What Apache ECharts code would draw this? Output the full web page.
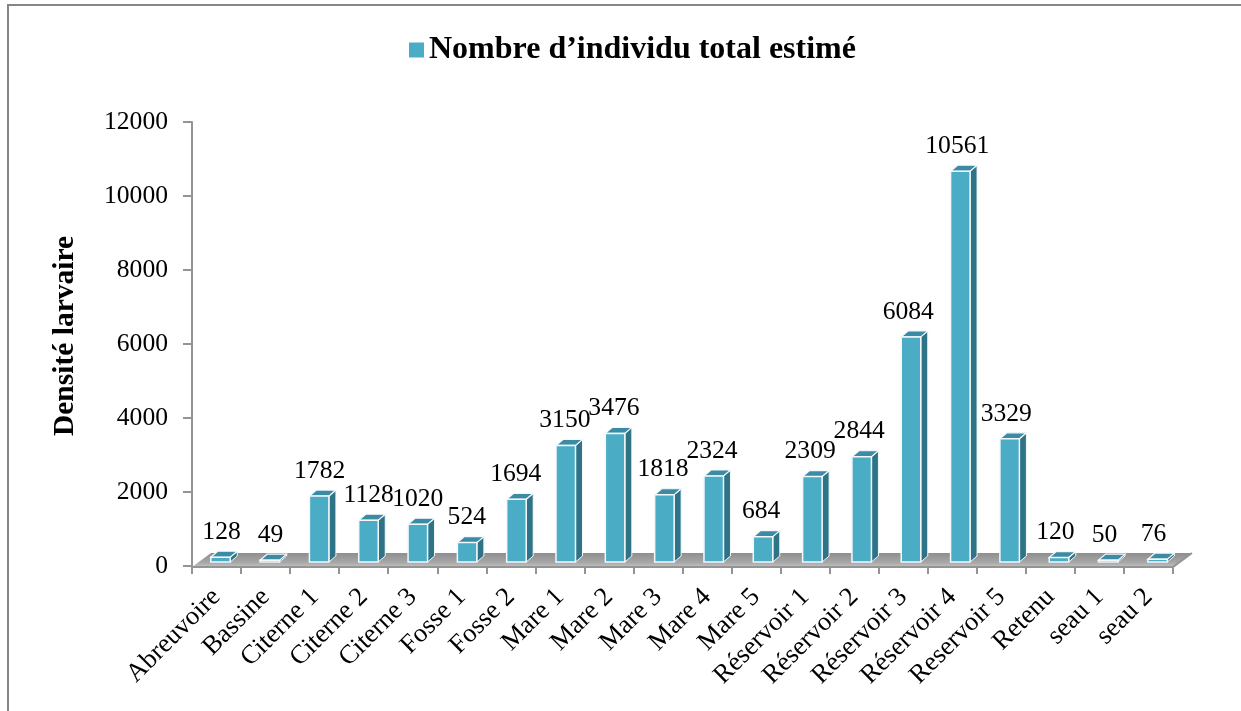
<!DOCTYPE html>
<html><head><meta charset="utf-8">
<style>html,body{margin:0;padding:0;background:#fff}#c{width:1241px;height:711px}</style>
<script src="https://cdn.jsdelivr.net/npm/echarts@6/dist/echarts.min.js"></script>
</head><body><div id="c"></div>
<script>
const categories = ['Abreuvoire','Bassine','Citerne 1','Citerne 2','Citerne 3','Fosse 1','Fosse 2','Mare 1','Mare 2','Mare 3','Mare 4','Mare 5','Réservoir 1','Réservoir 2','Réservoir 3','Réservoir 4','Reservoir 5','Retenu','seau 1','seau 2'];
const values = [128,49,1782,1128,1020,524,1694,3150,3476,1818,2324,684,2309,2844,6084,10561,3329,120,50,76];
const seriesName = 'Nombre d’individu total estimé';
const yTicks = {min:0,max:12000,interval:2000};
const FONT = '"Liberation Serif","Times New Roman",serif';
const C = {front:'#4bacc6',side:'#2f7387',top:'#3a8ba3',axis:'#949494'};
const chart = echarts.init(document.getElementById('c'),null,{renderer:'canvas'});

function poly(points,fill,stroke,lw){
  return {type:'polygon',shape:{points},style:{fill,stroke:stroke||null,lineWidth:lw||0}};
}
function floorItem(params,api){
  const cs = params.coordSys, L = cs.x, R = cs.x+cs.width, B = api.coord([0,0])[1]+1;
  const dx = 19, dy = 14;
  return {type:'group',children:[
    {type:'polygon',shape:{points:[[L,B],[L+dx,B-dy],[R+dx,B-dy],[R,B]]},
     style:{fill:new echarts.graphic.LinearGradient(0,0,0,1,[{offset:0,color:'#8e8e8e'},{offset:0.7,color:'#a8a8a8'},{offset:1,color:'#c4c4c4'}])}},
    {type:'polyline',shape:{points:[[L,B],[R,B],[R+dx,B-dy]]},style:{stroke:C.axis,lineWidth:2,fill:null}}
  ]};
}
function barItem(params,api){
  const i = api.value(0), v = api.value(1);
  const c0 = api.coord([i,0]), c1 = api.coord([i,v]);
  const cx = c0[0]+4+i*0.27, w = 19.5, hw = w/2, dx = 7, dy = 6;
  const yB = c0[1]-4, yT = c1[1]-4;
  const l = cx-hw, r = cx+hw;
  return {type:'group',children:[
    poly([[r,yT],[r+dx,yT-dy],[r+dx,yB-dy],[r,yB]],C.side,'#f4f8fa',1),
    poly([[l,yT],[l+dx,yT-dy],[r+dx,yT-dy],[r,yT]],C.top,'#f4f8fa',1.2),
    poly([[l,yT],[r,yT],[r,yB],[l,yB]],C.front,'#f4f8fa',1.5),
    {type:'text',style:{text:String(v),x:c0[0]+5,y:yT-25,align:'center',verticalAlign:'middle',
      font:'25.6px '+FONT,fill:'#000'},z2:20}
  ]};
}
chart.setOption({
  animation:false,
  backgroundColor:'#fff',
  legend:{data:[{name:seriesName,icon:'rect',itemStyle:{color:C.front}}],left:404,top:29,itemWidth:15,itemHeight:15,itemGap:8,
    textStyle:{fontFamily:FONT,fontWeight:'bold',fontSize:32,color:'#000',padding:[1,0,0,0]}},
  graphic:[{type:'polyline',silent:true,z:-1,shape:{points:[[8,711],[8,5],[1241,5]]},style:{stroke:'#868686',lineWidth:2,fill:null}}],
  grid:{left:192,right:68,top:122,bottom:145,containLabel:false},
  xAxis:{type:'category',data:categories,boundaryGap:true,
    axisLine:{show:false},
    axisTick:{show:true,alignWithLabel:false,length:8,lineStyle:{color:C.axis,width:2}},
    axisLabel:{rotate:45,interval:0,margin:27,fontFamily:FONT,fontSize:26.5,color:'#000'}},
  yAxis:{type:'value',min:yTicks.min,max:yTicks.max,interval:yTicks.interval,
    name:'Densité larvaire',nameLocation:'middle',nameGap:112,
    nameTextStyle:{fontFamily:FONT,fontWeight:'bold',fontSize:29.5,color:'#000',padding:[0,0,0,16]},
    axisLine:{show:true,lineStyle:{color:C.axis,width:2}},
    axisTick:{show:true,length:9,lineStyle:{color:C.axis,width:2}},
    axisLabel:{margin:24,padding:[3,0,0,0],fontFamily:FONT,fontSize:25.6,color:'#000',formatter:v=>String(v)},
    splitLine:{show:false}},
  series:[
    {type:'custom',name:'floor',silent:true,z:1,renderItem:floorItem,data:[[0]],encode:{x:0},tooltip:{show:false}},
    {type:'custom',name:seriesName,z:2,renderItem:barItem,itemStyle:{color:C.front},
     data:values.map((v,i)=>[i,v]),encode:{x:0,y:1},clip:false}
  ]
});
</script></body></html>
